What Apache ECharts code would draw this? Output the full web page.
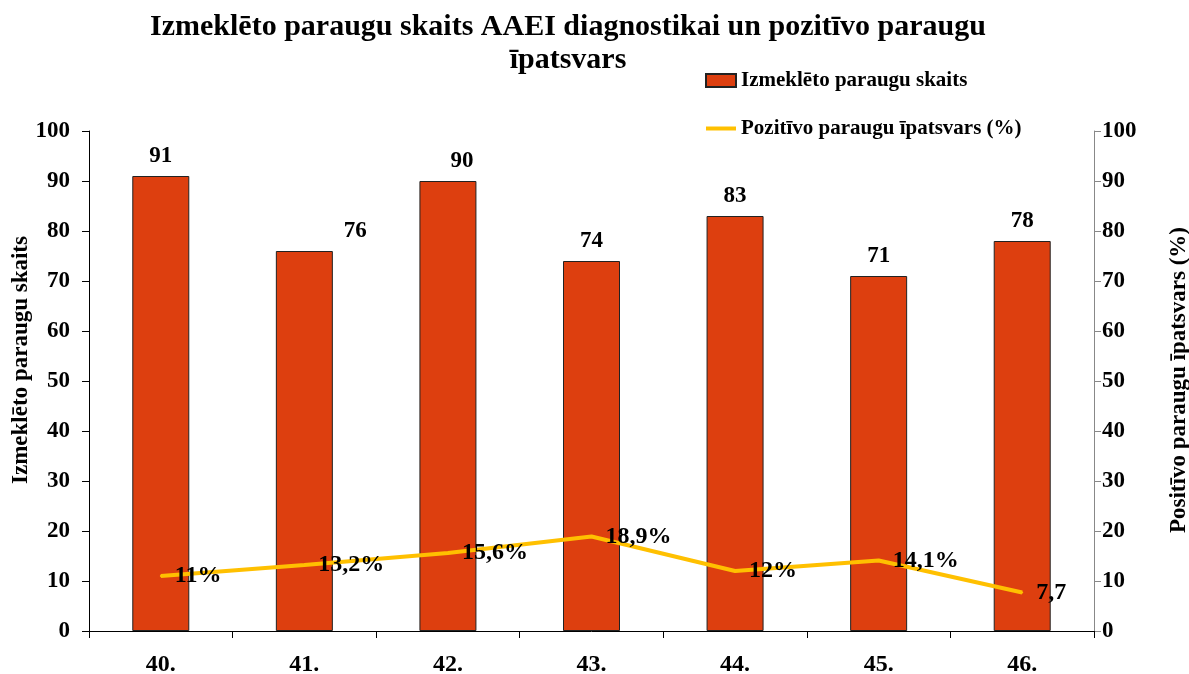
<!DOCTYPE html>
<html>
<head>
<meta charset="utf-8">
<script src="https://cdn.jsdelivr.net/npm/echarts@6/dist/echarts.min.js"></script>
<style>
html,body{margin:0;padding:0;background:#fff;}
#chart{width:1189px;height:674px;}
</style>
</head>
<body>
<div id="chart"></div>
<script>
const titleText = 'Izmeklēto paraugu skaits AAEI diagnostikai un pozitīvo paraugu\nīpatsvars';
const categories = ['40.', '41.', '42.', '43.', '44.', '45.', '46.'];
const sampleCounts = [91, 76, 90, 74, 83, 71, 78];
const positiveShare = [11, 13.2, 15.6, 18.9, 12, 14.1, 7.7];
const positiveLabels = ['11%', '13,2%', '15,6%', '18,9%', '12%', '14,1%', '7,7'];
const barName = 'Izmeklēto paraugu skaits';
const lineName = 'Pozitīvo paraugu īpatsvars (%)';
const leftAxisTitle = 'Izmeklēto paraugu skaits';
const rightAxisTitle = 'Positīvo paraugu īpatsvars (%)';
const axisMin = 0, axisMax = 100, axisStep = 10;

const FONT = '"Liberation Serif", "Times New Roman", serif';
const barLabelShiftX = [0, 51, 14, 0, 0, 0, 0];

const chart = echarts.init(document.getElementById('chart'));
const option = {
  backgroundColor: '#fff',
  animation: false,
  title: {
    text: titleText,
    left: 563,
    top: 6,
    textAlign: 'center',
    textStyle: { fontFamily: FONT, fontWeight: 'bold', fontSize: 30, lineHeight: 33, color: '#000' }
  },
  legend: {
    orient: 'vertical',
    left: 705,
    top: 70,
    padding: 0,
    itemGap: 27,
    itemWidth: 30,
    itemHeight: 13,
    textStyle: { fontFamily: FONT, fontWeight: 'bold', fontSize: 21, color: '#000' },
    data: [
      { name: barName, icon: 'rect' },
      { name: lineName, icon: 'path://M0,0 L30,0 L30,4 L0,4 Z' }
    ]
  },
  grid: { left: 89, right: 95, top: 131, bottom: 43, containLabel: false, outerBoundsMode: 'none' },
  xAxis: {
    type: 'category',
    data: categories,
    axisLine: { lineStyle: { color: '#000', width: 1 } },
    axisTick: { show: true, length: 7, lineStyle: { color: '#000' } },
    axisLabel: { fontFamily: FONT, fontWeight: 'bold', fontSize: 24, color: '#000', margin: 22 }
  },
  yAxis: [
    {
      type: 'value', min: axisMin, max: axisMax, interval: axisStep,
      axisLine: { show: true, lineStyle: { color: '#000' } },
      axisTick: { show: true, length: 7, lineStyle: { color: '#000' } },
      splitLine: { show: false },
      axisLabel: { fontFamily: FONT, fontWeight: 'bold', fontSize: 23, color: '#000', margin: 19 }
    },
    {
      type: 'value', min: axisMin, max: axisMax, interval: axisStep, position: 'right',
      axisLine: { show: true, lineStyle: { color: '#888' } },
      axisTick: { show: true, length: 7, lineStyle: { color: '#888' } },
      splitLine: { show: false },
      axisLabel: { fontFamily: FONT, fontWeight: 'bold', fontSize: 23, color: '#000', margin: 8 }
    }
  ],
  graphic: [
    {
      type: 'text', x: 21, y: 360, rotation: Math.PI / 2,
      style: { text: leftAxisTitle, fontFamily: FONT, fontWeight: 'bold', fontSize: 23, fill: '#000', align: 'center', verticalAlign: 'middle' }
    },
    {
      type: 'text', x: 1179, y: 380, rotation: Math.PI / 2,
      style: { text: rightAxisTitle, fontFamily: FONT, fontWeight: 'bold', fontSize: 23, fill: '#000', align: 'center', verticalAlign: 'middle' }
    }
  ],
  series: [
    {
      name: barName,
      type: 'bar',
      barWidth: 57,
      yAxisIndex: 0,
      itemStyle: { color: '#DD3F0F', borderColor: '#222', borderWidth: 1 },
      data: sampleCounts.map((v, i) => ({
        value: v,
        label: { offset: [barLabelShiftX[i], 0] }
      })),
      label: {
        show: true, position: 'top', distance: 8,
        fontFamily: FONT, fontWeight: 'bold', fontSize: 23, color: '#000'
      },
      z: 2
    },
    {
      name: lineName,
      type: 'line',
      yAxisIndex: 1,
      symbol: 'circle',
      symbolSize: 2,
      showSymbol: true,
      lineStyle: { color: '#FFC000', width: 4 },
      itemStyle: { color: '#FFC000' },
      data: positiveShare,
      label: {
        show: true, position: 'right', distance: 13,
        offset: [0, 2],
        fontFamily: FONT, fontWeight: 'bold', fontSize: 24, color: '#000',
        formatter: p => positiveLabels[p.dataIndex]
      },
      labelLayout: { hideOverlap: false },
      z: 3
    }
  ]
};
chart.setOption(option);
</script>
</body>
</html>
